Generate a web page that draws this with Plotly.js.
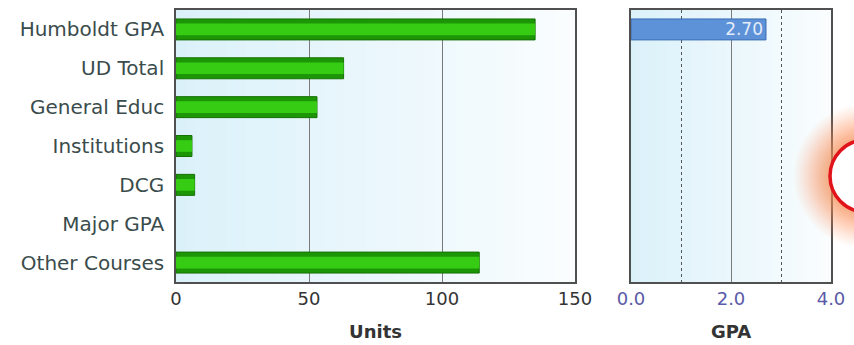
<!DOCTYPE html>
<html>
<head>
<meta charset="utf-8">
<script src="https://cdn.plot.ly/plotly-3.0.1.min.js"></script>
<style>html,body{margin:0;padding:0;background:#fff;}#chart{width:854px;height:345px;}</style>
</head>
<body>
<div id="chart"></div>
<script>
const categories = ['Humboldt GPA','UD Total','General Educ','Institutions','DCG','Major GPA','Other Courses'];
const units = [135, 63, 53, 6, 7, null, 114];
const gpa = [2.70, null, null, null, null, null, null];
const gpaText = ['2.70', '', '', '', '', '', ''];
const unitTicks = [0, 50, 100, 150];
const gpaTicks = [0, 2, 4];

const FONT = 'DejaVu Sans, Verdana, sans-serif';

const traces = [
  {type:'bar', orientation:'h', y:categories, x:units, xaxis:'x', yaxis:'y',
   width:0.54, marker:{color:'#1c9606', line:{color:'#157204', width:1}}, hoverinfo:'skip'},
  {type:'bar', orientation:'h', y:categories, x:units, xaxis:'x', yaxis:'y',
   width:0.3, marker:{color:'#36cc14', line:{width:0}}, hoverinfo:'skip'},
  {type:'bar', orientation:'h', y:categories, x:gpa, xaxis:'x2', yaxis:'y2',
   width:0.54, marker:{color:'#5d91d8', line:{color:'#3c6fb5', width:1}},
   text:gpaText, textposition:'inside', insidetextanchor:'end', constraintext:'none',
   textfont:{family:FONT, size:17, color:'#e4ecfa'}, hoverinfo:'skip'}
];

function gradientShapes(xref, yref) {
  const N = 40, out = [];
  const c0 = [219,241,250], c1 = [250,253,254];
  for (let i = 0; i < N; i++) {
    const t = (i + 0.5) / N;
    const c = c0.map((v, k) => Math.round(v + (c1[k] - v) * t));
    out.push({type:'rect', xref:xref + ' domain', yref:yref + ' domain',
      x0:i / N, x1:(i + 1) / N + 0.002, y0:0, y1:1, layer:'below',
      fillcolor:'rgb(' + c.join(',') + ')', line:{width:0}});
  }
  return out;
}

const glow = [];
const gx = 866 / 854, gy = (282 - 176) / 272;
for (let r = 72; r >= 37; r -= 2) {
  const a = 0.035 + 0.09 * Math.pow((72 - r) / 35, 1.5);
  glow.push({type:'circle', xref:'paper', yref:'paper', xsizemode:'pixel', ysizemode:'pixel',
    xanchor:gx, yanchor:gy, x0:-r, x1:r, y0:-r, y1:r,
    fillcolor:'rgba(248,150,90,' + a.toFixed(3) + ')', line:{width:0}, layer:'above'});
}
glow.push({type:'circle', xref:'paper', yref:'paper', xsizemode:'pixel', ysizemode:'pixel',
  xanchor:gx, yanchor:gy, x0:-36, x1:36, y0:-36, y1:36,
  fillcolor:'#ffffff', line:{color:'#e0141a', width:3.5}, layer:'above'});

const axisLine = {showline:true, mirror:true, linecolor:'#505050', linewidth:1.8, zeroline:false, ticks:''};

const layout = {
  width:854, height:345,
  margin:{l:0, r:0, t:10, b:63},
  paper_bgcolor:'#ffffff', plot_bgcolor:'rgba(0,0,0,0)',
  showlegend:false, barmode:'overlay',
  font:{family:FONT, color:'#333'},
  xaxis:Object.assign({}, axisLine, {domain:[176/854, 575/854], range:[0,150], tickvals:unitTicks,
    showgrid:true, gridcolor:'#7a7a7a', gridwidth:1, fixedrange:true,
    tickfont:{family:FONT, size:18, color:'#333'},
    title:{text:'Units', font:{family:FONT, size:18, color:'#333', weight:'bold'}, standoff:17}}),
  yaxis:Object.assign({}, axisLine, {domain:[0,1], type:'category', categoryorder:'array', categoryarray:categories,
    autorange:'reversed', showgrid:false, ticklabelstandoff:6,
    tickfont:{family:FONT, size:20, color:'#3a4c4c'}}),
  xaxis2:Object.assign({}, axisLine, {domain:[631/854, 831/854], range:[0,4], anchor:'y2', tickvals:gpaTicks,
    tickformat:'.1f', showgrid:true, gridcolor:'#7a7a7a', gridwidth:1,
    minor:{dtick:1, tick0:0, showgrid:true, griddash:'dot', gridcolor:'#555', gridwidth:1, ticks:''},
    tickfont:{family:FONT, size:18, color:'#5a5aa8'},
    title:{text:'GPA', font:{family:FONT, size:18, color:'#333', weight:'bold'}, standoff:17}}),
  yaxis2:Object.assign({}, axisLine, {domain:[0,1], anchor:'x2', type:'category', categoryorder:'array', categoryarray:categories,
    autorange:'reversed', showgrid:false, showticklabels:false}),
  shapes: gradientShapes('x','y').concat(gradientShapes('x2','y2')).concat(glow)
};

Plotly.newPlot('chart', traces, layout, {staticPlot:true, displayModeBar:false});
</script>
</body>
</html>
